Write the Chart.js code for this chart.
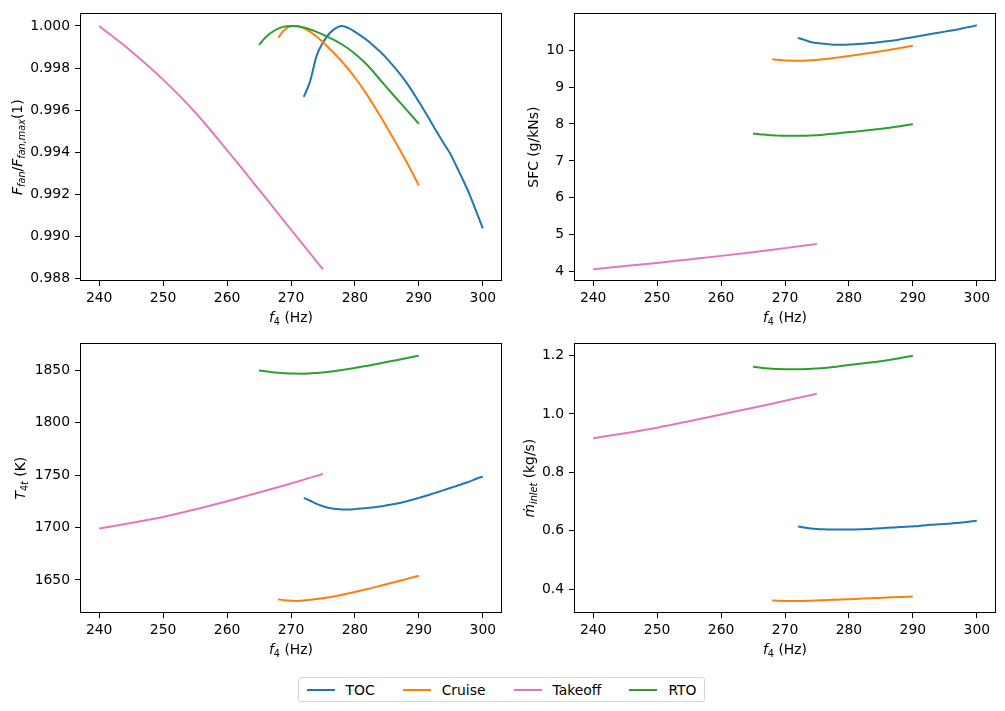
<!DOCTYPE html>
<html>
<head>
<meta charset="utf-8">
<script src="https://cdn.jsdelivr.net/npm/chart.js@4.4.1/dist/chart.umd.min.js"></script>
<style>
  body { margin: 0; background: #fff; }
  #wrap { position: relative; width: 1005px; height: 711px; font-family: "DejaVu Sans"; }
  canvas { position: absolute; }
  #legend {
    position: absolute; left: 298px; top: 677px; width: 407px; height: 25px;
    box-sizing: border-box; border: 1px solid #d6d6d6; border-radius: 3px;
    display: flex; align-items: center; justify-content: center; gap: 28px;
    font-size: 13.9px; color: #000;
  }
  #legend .item { display: flex; align-items: center; }
  #legend .sw { width: 28px; height: 2px; margin-right: 11px; }
</style>
</head>
<body>
<div id="wrap">
  <canvas id="fanChart" width="505" height="330" style="left:0;top:0"></canvas>
  <canvas id="sfcChart" width="500" height="330" style="left:505px;top:0"></canvas>
  <canvas id="t4tChart" width="505" height="330" style="left:0;top:330px"></canvas>
  <canvas id="mdotChart" width="500" height="330" style="left:505px;top:330px"></canvas>
  <div id="legend"></div>
</div>
<script>
// series: TOC, Cruise, Takeoff, RTO
const names = ["TOC", "Cruise", "Takeoff", "RTO"];
const colors = ["#1f77b4", "#ff7f0e", "#e377c2", "#2ca02c"];

const tocF4 = [272, 273, 274, 275, 276, 277, 278, 279, 280, 281, 282, 283, 284, 285, 286,
  287, 288, 289, 290, 291, 292, 293, 294, 295, 296, 297, 298, 299, 300];
const tocFan = [0.99663, 0.99738, 0.99858, 0.99922, 0.99964, 0.99990, 1.00000, 0.99990, 0.99972,
  0.99952, 0.99930, 0.99904, 0.99876, 0.99845, 0.99810, 0.99773, 0.99733, 0.99688, 0.99640,
  0.99590, 0.99538, 0.99487, 0.99437, 0.99388, 0.99325, 0.99262, 0.99194, 0.99116, 0.99038];
const tocSfc = [10.33, 10.28, 10.22, 10.19, 10.17, 10.155, 10.145, 10.145, 10.15, 10.16, 10.17,
  10.185, 10.20, 10.22, 10.24, 10.26, 10.29, 10.32, 10.35, 10.38, 10.41, 10.44, 10.47, 10.50,
  10.53, 10.56, 10.60, 10.63, 10.67];
const tocT4t = [1728.2, 1725.5, 1722.5, 1720.2, 1718.6, 1717.7, 1717.2, 1717.2, 1717.5, 1718.0,
  1718.6, 1719.3, 1720.1, 1721.1, 1722.2, 1723.4, 1724.8, 1726.4, 1728.2, 1730.0, 1731.9,
  1733.8, 1735.8, 1737.8, 1739.8, 1741.9, 1744.0, 1746.5, 1748.5];
const tocMdot = [0.615, 0.611, 0.608, 0.606, 0.605, 0.6045, 0.604, 0.604, 0.6042, 0.6047, 0.6053,
  0.606, 0.6075, 0.609, 0.610, 0.6112, 0.6125, 0.6138, 0.615, 0.6165, 0.6188, 0.6205, 0.622,
  0.6235, 0.625, 0.627, 0.629, 0.6315, 0.6345];

const cruiseF4 = [268, 269, 270, 271, 272, 274, 276, 278, 280, 282, 284, 286, 288, 290];
const cruiseFan = [0.99944, 0.99982, 0.99998, 1.00000, 0.99990, 0.99950, 0.99893, 0.99830,
  0.99755, 0.99668, 0.99570, 0.99466, 0.99358, 0.99242];
const cruiseSfc = [9.75, 9.735, 9.72, 9.715, 9.71, 9.725, 9.755, 9.795, 9.84, 9.89, 9.94, 9.995,
  10.055, 10.12];
const cruiseT4t = [1631.6, 1630.6, 1630.1, 1630.0, 1630.3, 1631.8, 1633.6, 1635.9, 1638.5,
  1641.3, 1644.4, 1647.6, 1650.8, 1654.0];
const cruiseMdot = [0.3615, 0.3602, 0.3595, 0.3592, 0.3593, 0.3605, 0.3622, 0.364, 0.3658,
  0.3677, 0.3695, 0.3713, 0.3732, 0.375];

const takeoffF4 = [240, 245, 250, 255, 260, 265, 270, 275];
const takeoffFan = [1.00000, 0.99880, 0.99745, 0.99590, 0.99410, 0.99222, 0.99032, 0.98843];
const takeoffSfc = [4.07, 4.155, 4.24, 4.335, 4.43, 4.53, 4.64, 4.75];
const takeoffT4t = [1699, 1704.3, 1710, 1717.2, 1725, 1733.3, 1742, 1751];
const takeoffMdot = [0.917, 0.934, 0.953, 0.975, 0.998, 1.021, 1.045, 1.069];

const rtoF4 = [265, 266, 267, 268, 269, 270, 272, 274, 276, 278, 280, 282, 284, 286, 288, 290];
const rtoFan = [0.99910, 0.99945, 0.99970, 0.99987, 0.99997, 1.00000, 0.99993, 0.99972, 0.99945,
  0.99912, 0.99868, 0.99812, 0.99742, 0.99672, 0.99604, 0.99535];
const rtoSfc = [7.745, 7.725, 7.71, 7.695, 7.685, 7.68, 7.68, 7.69, 7.71, 7.745, 7.78, 7.81,
  7.85, 7.89, 7.94, 7.995];
const rtoT4t = [1849.7, 1848.8, 1848.0, 1847.4, 1847.0, 1846.7, 1846.6, 1847.3, 1848.5, 1850.1,
  1852.0, 1854.2, 1856.5, 1858.9, 1861.3, 1863.8];
const rtoMdot = [1.162, 1.159, 1.1565, 1.1548, 1.1537, 1.1532, 1.153, 1.1545, 1.157, 1.162,
  1.1675, 1.1725, 1.178, 1.184, 1.1915, 1.1995];

// tick labels
const f4Ticks = [240, 250, 260, 270, 280, 290, 300];
const fanTicks = [0.988, 0.990, 0.992, 0.994, 0.996, 0.998, 1.000];
const sfcTicks = [4, 5, 6, 7, 8, 9, 10];
const t4tTicks = [1650, 1700, 1750, 1800, 1850];
const mdotTicks = [0.4, 0.6, 0.8, 1.0, 1.2];

const f4s = [tocF4, cruiseF4, takeoffF4, rtoF4];

Chart.defaults.font.family = "DejaVu Sans";
Chart.defaults.font.size = 13.9;
Chart.defaults.color = "#000";

const FS = 13.9, SUB = 9.7;

function drawRich(ctx, segs, cx, cy, rot) {
  const fontOf = s => (s.it ? "italic " : "") + (s.sub ? SUB : FS) + 'px "DejaVu Sans"';
  ctx.save();
  ctx.translate(cx, cy);
  ctx.rotate(rot);
  ctx.textAlign = "left";
  ctx.textBaseline = "alphabetic";
  let w = 0;
  segs.forEach(s => { ctx.font = fontOf(s); w += ctx.measureText(s.t).width; });
  let x = -w / 2;
  segs.forEach(s => {
    ctx.font = fontOf(s);
    ctx.fillText(s.t, x, s.sub ? 3.3 : 0);
    x += ctx.measureText(s.t).width;
  });
  ctx.restore();
}

const axesBox = {
  id: "axesBox",
  afterDraw(chart, args, opts) {
    const ctx = chart.ctx, a = chart.chartArea;
    ctx.save();
    ctx.strokeStyle = "#000";
    ctx.lineWidth = 1;
    ctx.strokeRect(Math.round(a.left) + 0.5, Math.round(a.top) + 0.5,
      Math.round(a.right - a.left) - 1, Math.round(a.bottom - a.top) - 1);
    ctx.fillStyle = "#000";
    drawRich(ctx, opts.xTitle, (a.left + a.right) / 2, a.bottom + opts.xOff, 0);
    drawRich(ctx, opts.yTitle, a.left - opts.yOff, (a.top + a.bottom) / 2, -Math.PI / 2);
    ctx.restore();
  }
};

const xTitle = [{ t: "f", it: true }, { t: "4", sub: true }, { t: " (Hz)" }];

function makeChart(id, values, yTicks, dec, yMin, yMax, lay) {
  new Chart(document.getElementById(id), {
    type: "line",
    data: {
      datasets: values.map((vals, i) => ({
        label: names[i],
        data: vals.map((v, j) => ({ x: f4s[i][j], y: v })),
        borderColor: colors[i],
        backgroundColor: colors[i],
        borderWidth: 2,
        pointRadius: 0,
        cubicInterpolationMode: "monotone",
        order: values.length - i
      }))
    },
    options: {
      responsive: false,
      animation: false,
      devicePixelRatio: 1,
      layout: { padding: { top: lay.top, right: lay.right, left: 0, bottom: 0 } },
      plugins: {
        legend: { display: false },
        tooltip: { enabled: false },
        axesBox: { xTitle: xTitle, yTitle: lay.yTitle, xOff: lay.xOff, yOff: lay.yOff }
      },
      scales: {
        x: {
          type: "linear",
          min: 237,
          max: 303,
          afterBuildTicks: s => { s.ticks = f4Ticks.map(v => ({ value: v })); },
          afterFit: s => { s.height = lay.xHeight; },
          grid: { drawOnChartArea: false, drawTicks: true, tickLength: 5, color: "#000" },
          border: { display: false },
          ticks: { padding: 4, maxRotation: 0, callback: v => String(v) }
        },
        y: {
          type: "linear",
          min: yMin,
          max: yMax,
          afterBuildTicks: s => { s.ticks = yTicks.map(v => ({ value: v })); },
          afterFit: s => { s.width = lay.yWidth; },
          grid: { drawOnChartArea: false, drawTicks: true, tickLength: 5, color: "#000" },
          border: { display: false },
          ticks: { padding: 5, callback: v => v.toFixed(dec) }
        }
      }
    },
    plugins: [axesBox]
  });
}

makeChart("fanChart", [tocFan, cruiseFan, takeoffFan, rtoFan], fanTicks, 3, 0.98788, 1.00060, {
  top: 10, right: 3, yWidth: 80, xHeight: 49, xOff: 41, yOff: 58,
  yTitle: [{ t: "F", it: true }, { t: "fan", it: true, sub: true }, { t: "/" },
    { t: "F", it: true }, { t: "fan,max", it: true, sub: true }, { t: "(1)" }]
});
makeChart("sfcChart", [tocSfc, cruiseSfc, takeoffSfc, rtoSfc], sfcTicks, 0, 3.75, 10.995, {
  top: 10, right: 9, yWidth: 69, xHeight: 49, xOff: 41, yOff: 36.5,
  yTitle: [{ t: "SFC (g/kNs)" }]
});
makeChart("t4tChart", [tocT4t, cruiseT4t, takeoffT4t, rtoT4t], t4tTicks, 0, 1618.5, 1875.5, {
  top: 12, right: 3, yWidth: 80, xHeight: 47, xOff: 40.5, yOff: 55.3,
  yTitle: [{ t: "T", it: true }, { t: "4", sub: true }, { t: "t", it: true, sub: true }, { t: " (K)" }]
});
makeChart("mdotChart", [tocMdot, cruiseMdot, takeoffMdot, rtoMdot], mdotTicks, 1, 0.3184, 1.2418, {
  top: 12, right: 9, yWidth: 69, xHeight: 47, xOff: 40.5, yOff: 40,
  yTitle: [{ t: "\u1E41", it: true }, { t: "inlet", it: true, sub: true }, { t: " (kg/s)" }]
});

// shared legend
const legend = document.getElementById("legend");
names.forEach((n, i) => {
  const item = document.createElement("div");
  item.className = "item";
  item.innerHTML = `<span class="sw" style="background:${colors[i]}"></span><span>${n}</span>`;
  legend.appendChild(item);
});
</script>
</body>
</html>
